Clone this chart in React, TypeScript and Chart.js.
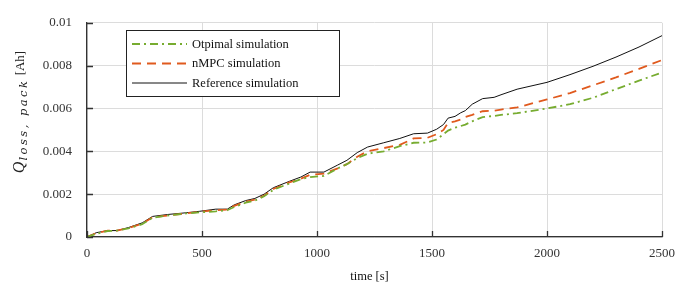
import React, { useEffect, useRef } from "react";
import { Chart, registerables } from "chart.js";

Chart.register(...registerables);

const times = [0, 40, 90, 130, 180, 240, 285, 350, 430, 490, 560, 610, 640, 690, 730, 770, 810, 880, 930, 970, 1030, 1090, 1130, 1175, 1220, 1290, 1360, 1420, 1480, 1520, 1550, 1570, 1600, 1625, 1645, 1675, 1720, 1770, 1800, 1870, 2000, 2100, 2200, 2300, 2400, 2500];
const optimal = [0, 0.00015, 0.00028, 0.0003, 0.0004, 0.0006, 0.0009, 0.001, 0.0011, 0.00115, 0.0012, 0.00125, 0.0014, 0.0016, 0.0017, 0.0019, 0.0022, 0.0025, 0.0027, 0.0028, 0.00285, 0.0032, 0.0034, 0.00368, 0.00389, 0.004, 0.00424, 0.0044, 0.00441, 0.00455, 0.0048, 0.00497, 0.0051, 0.00518, 0.00525, 0.0054, 0.0056, 0.00565, 0.0057, 0.00578, 0.006, 0.0062, 0.0065, 0.0069, 0.0073, 0.00768];
const nmpc = [0, 0.00018, 0.0003, 0.0003, 0.00042, 0.00062, 0.00092, 0.001, 0.0011, 0.00118, 0.00125, 0.00128, 0.00145, 0.00165, 0.00175, 0.00193, 0.00224, 0.00255, 0.00272, 0.0029, 0.00296, 0.0032, 0.0034, 0.00375, 0.004, 0.00415, 0.0043, 0.0046, 0.00463, 0.0048, 0.005, 0.00533, 0.0054, 0.00548, 0.0056, 0.0057, 0.00587, 0.0059, 0.00595, 0.00605, 0.00642, 0.00672, 0.00708, 0.00745, 0.00785, 0.00826];
const reference = [0, 0.0002, 0.0003, 0.0003, 0.00044, 0.00066, 0.00096, 0.00105, 0.00113, 0.0012, 0.0013, 0.0013, 0.0015, 0.0017, 0.0018, 0.002, 0.0023, 0.0026, 0.0028, 0.00303, 0.00303, 0.00336, 0.00358, 0.00394, 0.0042, 0.0044, 0.0046, 0.00482, 0.00485, 0.00503, 0.00525, 0.00555, 0.00563, 0.0058, 0.0059, 0.0062, 0.00646, 0.00652, 0.00664, 0.0069, 0.00722, 0.00758, 0.00797, 0.0084, 0.00887, 0.0094];
const seriesNames = ["Otpimal simulation", "nMPC simulation", "Reference simulation"];
const xTickLabels = ["0", "500", "1000", "1500", "2000", "2500"];
const yTickLabels = ["0", "0.002", "0.004", "0.006", "0.008", "0.01"];
const xTitle = "time [s]";
const yTitleMain = "Q";
const yTitleSub = "loss, pack";
const yTitleUnit = " [Ah]";

const SERIF = "'Liberation Serif', 'DejaVu Serif', serif";
const MATH = "'DejaVu Serif', 'Liberation Serif', serif";
const COLORS = ["#77ac30", "#e05a1e", "#111111"];
const DASHES = [[8, 4, 2, 4], [9, 6], []];
const WIDTHS = [1.8, 1.8, 1];

const overlay = {
  id: "overlay",
  afterDatasetsDraw(chart: any) {
    const { ctx, chartArea } = chart;
    const xs = chart.scales.x;
    const ys = chart.scales.y;
    ctx.save();
    ctx.strokeStyle = "#333";
    ctx.lineWidth = 1.3;
    ctx.beginPath();
    xs.ticks.forEach((t: any) => {
      const px = Math.round(xs.getPixelForValue(t.value)) + 0.5;
      ctx.moveTo(px, chartArea.bottom);
      ctx.lineTo(px, chartArea.bottom - 6);
    });
    ys.ticks.forEach((t: any) => {
      const py = Math.round(ys.getPixelForValue(t.value)) + 0.5;
      ctx.moveTo(chartArea.left, py);
      ctx.lineTo(chartArea.left + 6, py);
    });
    ctx.stroke();
    ctx.restore();
  },
  afterDraw(chart: any) {
    const { ctx, chartArea } = chart;
    ctx.save();
    // legend
    const bx = 126.5, by = 30.5, bw = 213, bh = 66;
    ctx.fillStyle = "#fff";
    ctx.fillRect(bx, by, bw, bh);
    ctx.strokeStyle = "#222";
    ctx.lineWidth = 1;
    ctx.setLineDash([]);
    ctx.strokeRect(bx, by, bw, bh);
    const rows = [44, 63.5, 83];
    seriesNames.forEach((name, i) => {
      ctx.save();
      ctx.strokeStyle = COLORS[i];
      ctx.lineWidth = WIDTHS[i];
      ctx.setLineDash(DASHES[i]);
      ctx.beginPath();
      ctx.moveTo(132, rows[i]);
      ctx.lineTo(187, rows[i]);
      ctx.stroke();
      ctx.restore();
      ctx.fillStyle = "#111";
      ctx.font = `12.5px ${SERIF}`;
      ctx.textBaseline = "middle";
      ctx.textAlign = "left";
      ctx.fillText(name, 192, rows[i] + 0.5);
    });
    // x title
    ctx.fillStyle = "#111";
    ctx.font = `12.5px ${SERIF}`;
    ctx.textAlign = "center";
    ctx.textBaseline = "middle";
    ctx.fillText(xTitle, (chartArea.left + chartArea.right) / 2 - 5, 277);
    // y title
    ctx.translate(19, 112);
    ctx.rotate(-Math.PI / 2);
    ctx.textAlign = "left";
    ctx.textBaseline = "alphabetic";
    ctx.fillStyle = "#222";
    const fMain = `italic 16px ${SERIF}`;
    const fSub = `italic 11.5px ${MATH}`;
    const fUnit = `13px ${SERIF}`;
    ctx.font = fMain;
    const wMain = ctx.measureText(yTitleMain).width;
    ctx.font = fSub;
    (ctx as any).letterSpacing = "0px";
    const wSubNat = ctx.measureText(yTitleSub).width;
    const targetSub = 82;
    const ls = Math.max(0, (targetSub - wSubNat) / yTitleSub.length);
    ctx.font = fUnit;
    const wUnit = ctx.measureText(yTitleUnit).width;
    const total = wMain + 1 + targetSub + wUnit;
    let cx = -total / 2;
    ctx.font = fMain;
    ctx.fillText(yTitleMain, cx, 5);
    cx += wMain + 1;
    ctx.font = fSub;
    (ctx as any).letterSpacing = `${ls}px`;
    ctx.fillText(yTitleSub, cx, 8);
    (ctx as any).letterSpacing = "0px";
    cx += targetSub;
    ctx.font = fUnit;
    ctx.fillText(yTitleUnit, cx, 5);
    ctx.restore();
  },
};

export default function App() {
  const ref = useRef<HTMLCanvasElement | null>(null);
  useEffect(() => {
    if (!ref.current) return;
    const series = [optimal, nmpc, reference];
    const chart = new Chart(ref.current, {
      type: "line",
      data: {
        datasets: series.map((s, i) => ({
          label: seriesNames[i],
          data: times.map((t, j) => ({ x: t, y: s[j] })),
          borderColor: COLORS[i],
          borderWidth: WIDTHS[i],
          borderDash: DASHES[i],
          pointRadius: 0,
          tension: 0,
          fill: false,
        })),
      },
      options: {
        animation: false,
        responsive: false,
        devicePixelRatio: 1,
        layout: { padding: { top: 8, right: 32, left: 0, bottom: 0 } },
        plugins: { legend: { display: false }, tooltip: { enabled: false } },
        scales: {
          x: {
            type: "linear",
            min: 0,
            max: 2500,
            ticks: {
              stepSize: 500,
              padding: 9,
              color: "#333",
              font: { family: SERIF, size: 13 },
              maxRotation: 0,
              callback: (_v: any, i: number) => xTickLabels[i],
            },
            grid: { color: "#dcdcdc", lineWidth: 1, drawTicks: false },
            border: { color: "#333", width: 1.3 },
            afterFit: (s: any) => { s.height = 58; },
          },
          y: {
            type: "linear",
            min: 0,
            max: 0.01,
            ticks: {
              stepSize: 0.002,
              padding: 15,
              color: "#333",
              font: { family: SERIF, size: 13 },
              callback: (_v: any, i: number) => yTickLabels[i],
            },
            grid: { color: "#dcdcdc", lineWidth: 1, drawTicks: false },
            border: { color: "#333", width: 1.3 },
            afterFit: (s: any) => { s.width = 87; },
          },
        },
      },
      plugins: [overlay],
    });
    return () => chart.destroy();
  }, []);
  return (
    <div style={{ position: "fixed", left: 0, top: 0, width: 694, height: 295, background: "#fff" }}>
      <canvas ref={ref} width={694} height={295} style={{ display: "block" }} />
    </div>
  );
}
